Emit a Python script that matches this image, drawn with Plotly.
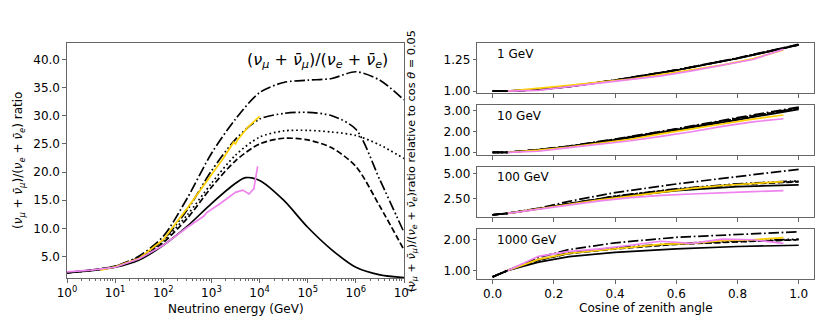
import plotly.graph_objects as go

# ---------------- data: left panel (ratio vs energy) ----------------
energy_grid = [1, 3.16, 10, 31.6, 100, 316, 1000, 3162, 1e4, 3.16e4, 1e5, 3.16e5, 1e6, 3.16e6, 1e7]
energy_solid = [1, 3.16, 10, 31.6, 100, 316, 1000, 3162, 5100, 1e4, 3.16e4, 1e5, 3.16e5, 1e6, 3.16e6, 1e7]
ratio_solid = [2.15, 2.5, 3.1, 4.4, 7.0, 10.4, 14.4, 18.0, 19.0, 18.5, 15.0, 10.2, 6.2, 3.1, 1.75, 1.28]
ratio_dashed = [2.15, 2.55, 3.2, 4.7, 7.5, 11.8, 17.3, 22.0, 25.0, 26.0, 25.7, 24.3, 21.0, 13.9, 6.2]
ratio_dotted = [2.15, 2.55, 3.2, 4.8, 7.8, 12.4, 18.0, 23.0, 26.2, 27.3, 27.4, 27.1, 26.5, 24.8, 22.4]
ratio_dashdotdot = [2.15, 2.6, 3.3, 4.9, 8.0, 13.3, 20.2, 25.8, 29.4, 30.4, 30.6, 30.0, 27.6, 18.6, 9.3]
ratio_dashdot = [2.15, 2.6, 3.3, 5.1, 8.6, 15.4, 23.3, 29.4, 34.1, 35.9, 36.3, 36.6, 37.8, 36.3, 32.8]

energy_gold = [5, 10, 31.6, 100, 316, 1000, 1780, 2900, 3160, 3550, 5620, 10000]
ratio_gold = [2.6, 3.2, 4.7, 8.0, 13.6, 19.4, 22.5, 25.3, 25.0, 25.8, 27.9, 29.9]
energy_violet = [1, 3.16, 10, 31.6, 100, 316, 700, 800, 1580, 3160, 4470, 6030, 7590, 9120]
ratio_violet = [2.3, 2.6, 3.1, 4.6, 7.0, 10.2, 12.2, 12.8, 14.5, 16.4, 16.8, 16.1, 17.0, 21.0]

x_tickvals = [1, 10, 100, 1000, 1e4, 1e5, 1e6, 1e7]
x_ticktext = ["10<sup>0</sup>", "10<sup>1</sup>", "10<sup>2</sup>", "10<sup>3</sup>",
              "10<sup>4</sup>", "10<sup>5</sup>", "10<sup>6</sup>", "10<sup>7</sup>"]
y_tickvals_left = [5, 10, 15, 20, 25, 30, 35, 40]

# ---------------- data: right panels (ratio vs cos zenith) ----------------
cos_black = [0.0, 0.05, 0.15, 0.25, 0.4, 0.6, 0.8, 1.0]
cos_mc = [0.05, 0.15, 0.25, 0.35, 0.45, 0.55, 0.65, 0.75, 0.85, 0.95]
panel_labels = ["1 GeV", "10 GeV", "100 GeV", "1000 GeV"]

p1_solid = [1.0, 1.0, 1.01, 1.035, 1.085, 1.165, 1.258, 1.365]
p1_dashed = [1.0, 1.0, 1.01, 1.035, 1.085, 1.165, 1.259, 1.366]
p1_dotted = [1.0, 1.0, 1.01, 1.036, 1.086, 1.166, 1.26, 1.367]
p1_dashdotdot = [1.0, 1.0, 1.01, 1.036, 1.086, 1.166, 1.26, 1.368]
p1_dashdot = [1.0, 1.0, 1.011, 1.037, 1.087, 1.167, 1.262, 1.37]
p1_gold = [1.0, 1.02, 1.045, 1.07, 1.095, 1.13, 1.165, 1.205, 1.255, 1.325]
p1_violet = [1.0, 1.005, 1.035, 1.062, 1.09, 1.12, 1.16, 1.205, 1.25, 1.33]

p2_solid = [1.0, 1.0, 1.12, 1.27, 1.58, 2.05, 2.55, 3.05]
p2_dashed = [1.0, 1.0, 1.12, 1.28, 1.6, 2.08, 2.6, 3.1]
p2_dotted = [1.0, 1.0, 1.12, 1.28, 1.6, 2.08, 2.6, 3.1]
p2_dashdotdot = [1.0, 1.0, 1.12, 1.28, 1.61, 2.1, 2.62, 3.12]
p2_dashdot = [1.0, 1.0, 1.13, 1.3, 1.63, 2.12, 2.65, 3.16]
p2_gold = [1.0, 1.1, 1.25, 1.42, 1.62, 1.88, 2.1, 2.35, 2.58, 2.78]
p2_violet = [1.0, 1.05, 1.22, 1.38, 1.55, 1.76, 1.98, 2.24, 2.45, 2.6]

p3_solid = [0.85, 1.0, 1.45, 1.95, 2.6, 3.27, 3.67, 3.85]
p3_dashed = [0.85, 1.0, 1.46, 1.98, 2.68, 3.4, 3.88, 4.15]
p3_dotted = [0.85, 1.0, 1.46, 1.98, 2.7, 3.42, 3.9, 4.2]
p3_dashdotdot = [0.85, 1.0, 1.47, 2.0, 2.72, 3.45, 3.95, 4.25]
p3_dashdot = [0.85, 1.0, 1.5, 2.2, 3.07, 3.93, 4.67, 5.4]
p3_gold = [1.0, 1.45, 1.95, 2.35, 2.72, 3.1, 3.5, 3.78, 4.0, 4.17]
p3_violet = [1.0, 1.42, 1.88, 2.25, 2.57, 2.8, 2.93, 3.07, 3.17, 3.27]

p4_solid = [0.79, 1.0, 1.27, 1.45, 1.59, 1.7, 1.78, 1.82]
p4_dashed = [0.79, 1.0, 1.33, 1.55, 1.7, 1.85, 1.93, 2.0]
p4_dotted = [0.79, 1.0, 1.33, 1.56, 1.72, 1.86, 1.94, 2.0]
p4_dashdotdot = [0.79, 1.0, 1.35, 1.58, 1.74, 1.88, 1.96, 2.02]
p4_dashdot = [0.79, 1.0, 1.42, 1.68, 1.9, 2.08, 2.18, 2.26]
p4_gold = [1.0, 1.36, 1.56, 1.66, 1.75, 1.85, 1.88, 1.97, 2.0, 2.07]
p4_violet = [1.0, 1.46, 1.62, 1.7, 1.82, 1.95, 1.88, 2.02, 2.0, 1.88]

panels = [
    (p1_solid, p1_dashed, p1_dotted, p1_dashdotdot, p1_dashdot, p1_gold, p1_violet, [1.0, 1.25], ["1.00", "1.25"]),
    (p2_solid, p2_dashed, p2_dotted, p2_dashdotdot, p2_dashdot, p2_gold, p2_violet, [1, 2, 3], ["1.00", "2.00", "3.00"]),
    (p3_solid, p3_dashed, p3_dotted, p3_dashdotdot, p3_dashdot, p3_gold, p3_violet, [2.5, 5.0], ["2.50", "5.00"]),
    (p4_solid, p4_dashed, p4_dotted, p4_dashdotdot, p4_dashdot, p4_gold, p4_violet, [1, 2], ["1.00", "2.00"]),
]
panel_ranges = [[0.982, 1.383], [0.87, 3.27], [0.6, 5.66], [0.71, 2.36]]

# ---------------- styling ----------------
W, H = 830, 332
FONT = "DejaVu Sans"
FS = 12
LW = 1.7
DASHED = "6px,2.7px"
DOTTED = "1.7px,2.8px"
DASHDOT = "10.5px,2.7px,1.7px,2.7px"
DASHDOTDOT = "10.5px,2.7px,1.7px,2.7px,1.7px,2.7px"
GOLD = "#FFD000"
VIOLET = "#EE82EE"
FRAME = "#666666"

def px_x(p):
    return p / W

def px_y(p):
    return 1 - p / H

fig = go.Figure()

# left panel
left_curves = [
    (energy_solid, ratio_solid, "solid"),
    (energy_grid, ratio_dashed, DASHED),
    (energy_grid, ratio_dotted, DOTTED),
    (energy_grid, ratio_dashdotdot, DASHDOTDOT),
    (energy_grid, ratio_dashdot, DASHDOT),
]
for xs, ys, dash in left_curves:
    fig.add_trace(go.Scatter(x=xs, y=ys, mode="lines", xaxis="x", yaxis="y",
                             line=dict(color="black", width=LW, dash=dash, shape="spline", smoothing=0.8),
                             showlegend=False, hoverinfo="skip"))
fig.add_trace(go.Scatter(x=energy_gold, y=ratio_gold, mode="lines", xaxis="x", yaxis="y",
                         line=dict(color=GOLD, width=LW), showlegend=False))
fig.add_trace(go.Scatter(x=energy_violet, y=ratio_violet, mode="lines", xaxis="x", yaxis="y",
                         line=dict(color=VIOLET, width=LW), showlegend=False))

# right panels
for i, panel in enumerate(panels):
    xa = "x%d" % (i + 2)
    ya = "y%d" % (i + 2)
    blacks = panel[:5]
    dashes = ["solid", DASHED, DOTTED, DASHDOTDOT, DASHDOT]
    for ys, dash in zip(blacks, dashes):
        fig.add_trace(go.Scatter(x=cos_black, y=ys, mode="lines", xaxis=xa, yaxis=ya,
                                 line=dict(color="black", width=LW, dash=dash),
                                 showlegend=False))
    fig.add_trace(go.Scatter(x=cos_mc, y=panel[5], mode="lines", xaxis=xa, yaxis=ya,
                             line=dict(color=GOLD, width=LW), showlegend=False))
    fig.add_trace(go.Scatter(x=cos_mc, y=panel[6], mode="lines", xaxis=xa, yaxis=ya,
                             line=dict(color=VIOLET, width=LW), showlegend=False))

axis_common = dict(showline=True, mirror=True, linecolor=FRAME, linewidth=1.2,
                   ticks="outside", ticklen=3.5, tickwidth=1, tickcolor=FRAME,
                   showgrid=False, zeroline=False, automargin=False,
                   tickfont=dict(family=FONT, size=FS, color="black"))

layout = dict(
    width=W, height=H,
    margin=dict(l=0, r=0, t=0, b=0, autoexpand=False),
    paper_bgcolor="white", plot_bgcolor="white",
    font=dict(family=FONT, size=FS, color="black"),
    showlegend=False,
)

layout["xaxis"] = dict(axis_common, type="log", range=[0, 7],
                       domain=[px_x(67), px_x(404)], anchor="y",
                       tickmode="array", tickvals=x_tickvals, ticktext=x_ticktext,
                       minor=dict(ticks="outside", ticklen=2, tickcolor=FRAME,
                                  tickvals=[m * d for d in [1, 10, 100, 1000, 1e4, 1e5, 1e6]
                                            for m in range(2, 10)]))
layout["yaxis"] = dict(axis_common, range=[1.2, 42.9],
                       domain=[px_y(278), px_y(43)], anchor="x",
                       tickmode="array", tickvals=y_tickvals_left, tickformat=".1f")

panel_px = [(42.7, 93.3), (104.7, 155.0), (166.7, 217.3), (228.7, 279.3)]
for i, (top, bot) in enumerate(panel_px):
    n = i + 2
    layout["xaxis%d" % n] = dict(axis_common, range=[-0.05, 1.05],
                                  domain=[px_x(477.3), px_x(814)], anchor="y%d" % n,
                                  tickmode="array", tickvals=[0, 0.2, 0.4, 0.6, 0.8, 1.0],
                                  tickformat=".1f", showticklabels=(i == 3))
    layout["yaxis%d" % n] = dict(axis_common, range=panel_ranges[i],
                                  domain=[px_y(bot), px_y(top)], anchor="x%d" % n,
                                  tickmode="array", tickvals=panels[i][7], ticktext=panels[i][8])

ann = []
math_label = ("(<i>ν</i><sub><i>μ</i></sub> + <i>ν̄</i><sub><i>μ</i></sub>)/"
              "(<i>ν</i><sub><i>e</i></sub> + <i>ν̄</i><sub><i>e</i></sub>)")
ann.append(dict(text=math_label, xref="paper", yref="paper", x=px_x(390), y=px_y(60),
                xanchor="right", yanchor="middle", showarrow=False,
                font=dict(family=FONT, size=16, color="black")))
ann.append(dict(text=math_label + " ratio", xref="paper", yref="paper", x=px_x(19), y=px_y(161),
                xanchor="center", yanchor="middle", textangle=-90, showarrow=False,
                font=dict(family=FONT, size=FS, color="black")))
ann.append(dict(text=math_label + "ratio relative to cos <i>θ</i> = 0.05", xref="paper", yref="paper",
                x=px_x(412), y=px_y(161), xanchor="center", yanchor="middle", textangle=-90,
                showarrow=False, font=dict(family=FONT, size=11.3, color="black")))
ann.append(dict(text="Neutrino energy (GeV)", xref="paper", yref="paper", x=px_x(235.5), y=px_y(309),
                xanchor="center", yanchor="middle", showarrow=False,
                font=dict(family=FONT, size=FS, color="black")))
ann.append(dict(text="Cosine of zenith angle", xref="paper", yref="paper", x=px_x(645.7), y=px_y(308),
                xanchor="center", yanchor="middle", showarrow=False,
                font=dict(family=FONT, size=FS, color="black")))
label_offsets = [11.6, 11.3, 10.6, 11.3]
for i, (top, bot) in enumerate(panel_px):
    ann.append(dict(text=panel_labels[i], xref="paper", yref="paper", x=px_x(495), y=px_y(top + label_offsets[i]),
                    xanchor="left", yanchor="middle", showarrow=False,
                    font=dict(family=FONT, size=FS, color="black")))
layout["annotations"] = ann

fig.update_layout(**layout)
fig.write_html("out.html", config={"displayModeBar": False},
               post_script="document.body.style.margin='0px';document.body.style.overflow='hidden';")
